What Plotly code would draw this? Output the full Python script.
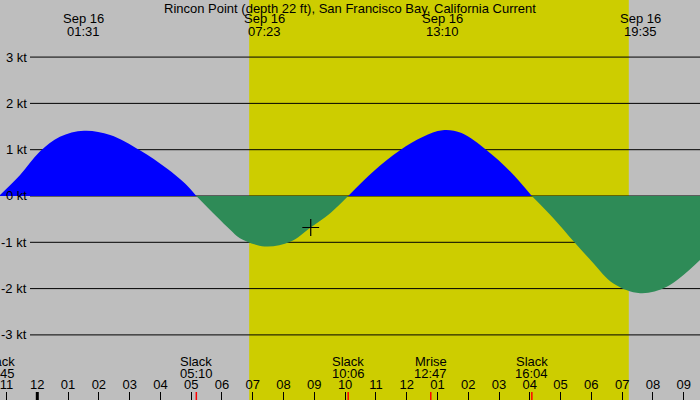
import pandas as pd
import plotly.graph_objects as go

# ---------------- data ----------------
title_text = "Rincon Point (depth 22 ft), San Francisco Bay, California Current"

times = ["2024-09-15 22:45", "2024-09-15 23:26", "2024-09-16 00:05", "2024-09-16 00:44",
         "2024-09-16 01:31", "2024-09-16 02:22", "2024-09-16 03:20", "2024-09-16 04:12",
         "2024-09-16 04:48", "2024-09-16 05:10", "2024-09-16 05:50", "2024-09-16 06:16",
         "2024-09-16 06:35", "2024-09-16 07:23", "2024-09-16 08:13", "2024-09-16 08:53",
         "2024-09-16 09:31", "2024-09-16 10:06", "2024-09-16 10:55", "2024-09-16 11:47",
         "2024-09-16 12:32", "2024-09-16 13:10", "2024-09-16 13:47", "2024-09-16 14:36",
         "2024-09-16 15:22", "2024-09-16 16:04", "2024-09-16 16:46", "2024-09-16 17:27",
         "2024-09-16 18:04", "2024-09-16 18:43", "2024-09-16 19:35", "2024-09-16 20:27",
         "2024-09-16 21:32"]
speeds = [0.0, 0.45, 0.96, 1.28,
          1.41, 1.32, 0.99, 0.60,
          0.27, 0.0, -0.45, -0.73,
          -0.91, -1.09, -0.99, -0.68,
          -0.37, 0.0, 0.53, 0.99,
          1.28, 1.42, 1.36, 0.99,
          0.53, 0.0, -0.48, -1.00,
          -1.45, -1.89, -2.10, -1.96,
          -1.38]

# max flood / ebb labels at top
peak_times = ["2024-09-16 01:31", "2024-09-16 07:23", "2024-09-16 13:10", "2024-09-16 19:35"]
peak_dates = ["Sep 16", "Sep 16", "Sep 16", "Sep 16"]
peak_clock = ["01:31", "07:23", "13:10", "19:35"]

# events at bottom
event_times = ["2024-09-15 22:45", "2024-09-16 05:10", "2024-09-16 10:06",
               "2024-09-16 12:47", "2024-09-16 16:04"]
event_names = ["Slack", "Slack", "Slack", "Mrise", "Slack"]
event_clock = ["22:45", "05:10", "10:06", "12:47", "16:04"]

sunrise = "2024-09-16 06:53"
sunset = "2024-09-16 19:13"
midnight = "2024-09-16 00:00"

now_time = ["2024-09-16 08:53"]
now_speed = [-0.68]

y_ticks = [3, 2, 1, 0, -1, -2, -3]
y_tick_labels = ["3 kt", "2 kt", "1 kt", "0 kt", "-1 kt", "-2 kt", "-3 kt"]

x_range = ["2024-09-15 22:47:17", "2024-09-16 21:31:48"]
y_range = [-4.406, 4.233]

# ---------------- styles ----------------
GRAY = "#BEBEBE"
DAY = "#CDCD00"
FLOOD = "#0000FF"
EBB = "#2E8B57"
FONT = "Liberation Sans"
FS = 13
H, W = 400, 700

x0_ts = pd.Timestamp(x_range[0])
x1_ts = pd.Timestamp(x_range[1])


def time_to_paper(t):
    """Map a time to the x-axis' paper fraction (axis spans the full width)."""
    return (pd.Timestamp(t) - x0_ts) / (x1_ts - x0_ts)


fig = go.Figure()

# split into flood / ebb segments at slack (zero) points
segments = []
cur_t, cur_v = [], []
for t, v in zip(times, speeds):
    cur_t.append(t)
    cur_v.append(v)
    if v == 0 and len(cur_t) > 1:
        segments.append((cur_t, cur_v))
        cur_t, cur_v = [t], [v]
if len(cur_t) > 1:
    segments.append((cur_t, cur_v))

for st, sv in segments:
    pos = max(sv, key=abs) > 0
    col = FLOOD if pos else EBB
    fig.add_trace(go.Scatter(
        x=st, y=sv, mode="lines", fill="tozeroy", fillcolor=col,
        line=dict(width=0, shape="spline", smoothing=1.0, color=col),
        hoverinfo="skip", showlegend=False))

fig.add_trace(go.Scatter(
    x=now_time, y=now_speed, mode="markers",
    marker=dict(symbol="cross-thin", size=12, line=dict(color="black", width=1.2)),
    showlegend=False, hoverinfo="skip"))

shapes = []
# daylight band
shapes.append(dict(type="rect", xref="x", yref="paper", x0=sunrise, x1=sunset,
                   y0=0, y1=1, fillcolor=DAY, line=dict(width=0), layer="below"))
# horizontal kt lines
for v in y_ticks:
    shapes.append(dict(type="line", xref="paper", yref="y", x0=30 / W, x1=1,
                       y0=v, y1=v, line=dict(color="black", width=1), layer="between"))
# thick midnight tick
shapes.append(dict(type="line", xref="x", yref="paper", x0=midnight, x1=midnight,
                   y0=0, y1=8 / H, line=dict(color="black", width=3), layer="above"))
# red event ticks
for t in event_times:
    shapes.append(dict(type="line", xref="x", yref="paper", x0=t, x1=t,
                       y0=0, y1=8 / H, line=dict(color="red", width=1.5), layer="above"))

annotations = []
annotations.append(dict(text=title_text, xref="paper", yref="paper", x=0.5, y=1 - 8 / H,
                        xanchor="center", yanchor="middle", showarrow=False,
                        font=dict(family=FONT, size=FS, color="black")))
for t, d, c in zip(peak_times, peak_dates, peak_clock):
    annotations.append(dict(text=d, xref="paper", yref="paper", x=time_to_paper(t), y=1 - 19 / H,
                            xanchor="center", yanchor="middle", showarrow=False,
                            font=dict(family=FONT, size=FS, color="black")))
    annotations.append(dict(text=c, xref="paper", yref="paper", x=time_to_paper(t), y=1 - 31 / H,
                            xanchor="center", yanchor="middle", showarrow=False,
                            font=dict(family=FONT, size=FS, color="black")))
for t, n, c in zip(event_times, event_names, event_clock):
    annotations.append(dict(text=n, xref="paper", yref="paper", x=time_to_paper(t), y=1 - 361 / H,
                            xanchor="center", yanchor="middle", showarrow=False,
                            font=dict(family=FONT, size=FS, color="black")))
    annotations.append(dict(text=c, xref="paper", yref="paper", x=time_to_paper(t), y=1 - 373 / H,
                            xanchor="center", yanchor="middle", showarrow=False,
                            font=dict(family=FONT, size=FS, color="black")))
for v, lab in zip(y_ticks, y_tick_labels):
    annotations.append(dict(text=lab, xref="paper", yref="y", x=29 / W, y=v,
                            xanchor="right", yanchor="middle", showarrow=False,
                            font=dict(family=FONT, size=FS, color="black")))

fig.update_layout(
    width=W, height=H,
    margin=dict(l=0, r=0, t=0, b=0),
    paper_bgcolor=GRAY, plot_bgcolor=GRAY,
    shapes=shapes, annotations=annotations,
    showlegend=False,
    xaxis=dict(type="date", range=x_range, tickformat="%I", dtick=3600000,
               tick0=midnight, ticks="inside", ticklen=8, tickcolor="black",
               tickwidth=1, ticklabelposition="inside", ticklabeloverflow="allow",
               showgrid=False, zeroline=False, showline=False,
               tickfont=dict(family=FONT, size=FS, color="black"),
               fixedrange=True),
    yaxis=dict(range=y_range, showticklabels=False, showgrid=False, zeroline=False,
               ticks="", showline=False, fixedrange=True),
)

fig.write_html("out.html",
               config={"displayModeBar": False, "staticPlot": False},
               post_script="document.body.style.margin='0';document.body.style.padding='0';"
                           "document.body.style.overflow='hidden';")
